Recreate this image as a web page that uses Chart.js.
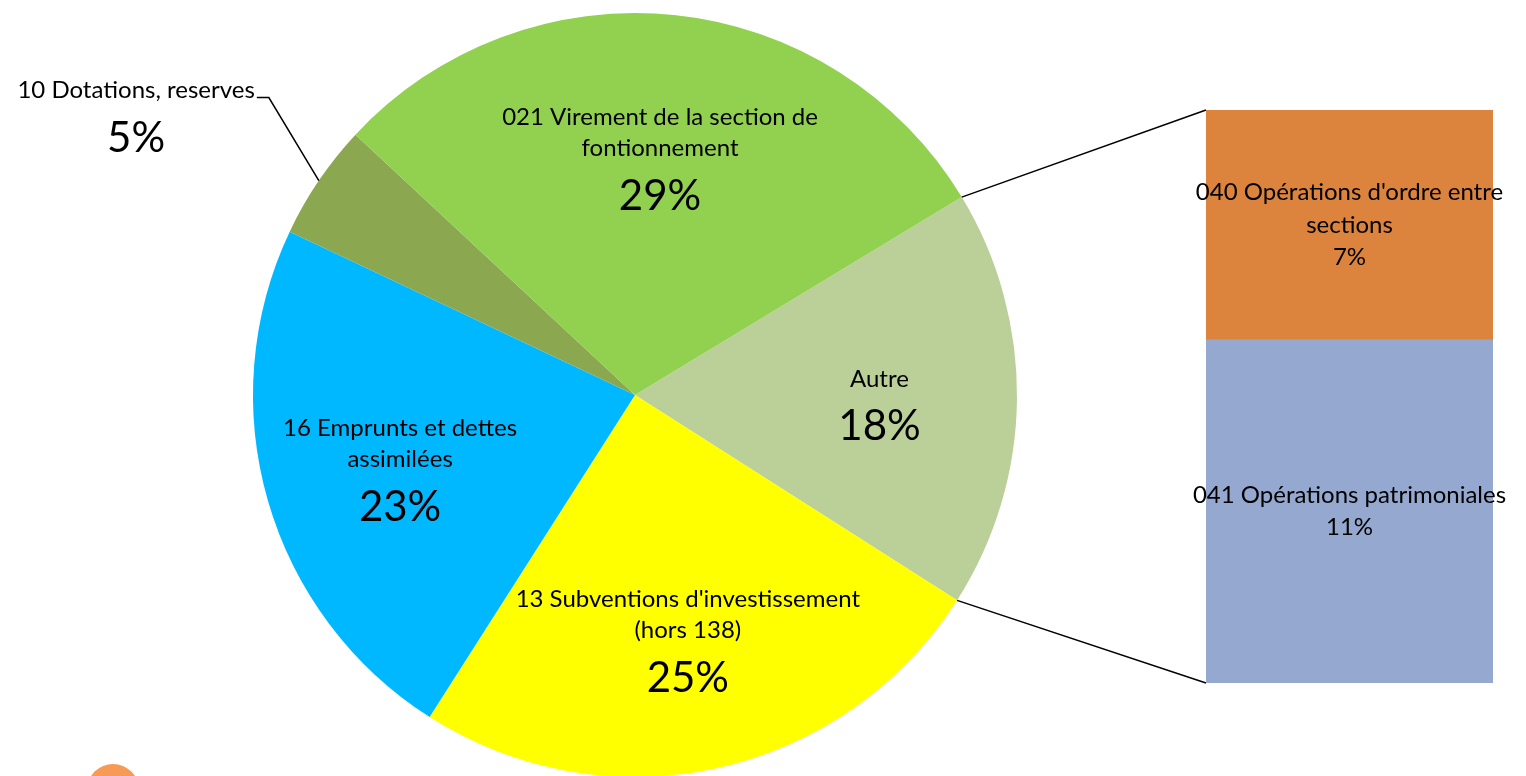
<!DOCTYPE html>
<html>
<head>
<meta charset="utf-8">
<script src="https://cdn.jsdelivr.net/npm/chart.js@4.4.0/dist/chart.umd.min.js"></script>
<style>
html, body { margin: 0; padding: 0; background: #fff; overflow: hidden; }
#pieChart { position: absolute; left: 0; top: 0; }
#barChart { position: absolute; left: 1180px; top: 0; }
</style>
</head>
<body>
<canvas id="pieChart" width="1526" height="800"></canvas>
<canvas id="barChart" width="346" height="776"></canvas>
<script>
// pie slices, clockwise from "Autre"
let pieLabels = [
    ['Autre'],
    ["13 Subventions d'investissement", '(hors 138)'],
    ['16 Emprunts et dettes', 'assimilées'],
    ['10 Dotations, reserves'],
    ['021 Virement de la section de', 'fontionnement']
]
let mainValues = [25.0, 23.0, 4.9, 29.4]
let pieColors = ['#BBCF98', '#FFFF00', '#00B8FF', '#8BA850', '#92D050']

// the "Autre" slice split into a bar
let barLabels = [
    ['041 Opérations patrimoniales'],
    ["040 Opérations d'ordre entre", 'sections']
]
let barValues = [10.6, 7.1]
let barColors = ['#95A9D0', '#DC843E']

let autre = barValues.reduce((a, b) => a + b, 0)
let pieValues = [autre].concat(mainValues)
let total = pieValues.reduce((a, b) => a + b, 0)
let pct = v => Math.round(v / total * 100) + '%'

const FONT = 'Lato, "Open Sans", sans-serif'

let barLabelPlugin = {
    id: 'barLabels',
    afterDraw: (chart) => {
        let ctx = chart.ctx
        ctx.save()
        ctx.fillStyle = '#000'
        ctx.textAlign = 'center'
        ctx.textBaseline = 'middle'
        ctx.font = '24px ' + FONT
        chart.data.datasets.forEach((ds, i) => {
            let bar = chart.getDatasetMeta(i).data[0]
            let lines = barLabels[i].concat([pct(barValues[i])])
            let cy = (bar.y + bar.base) / 2
            let y0 = cy - (lines.length - 1) * 32.5 / 2
            lines.forEach((l, j) => ctx.fillText(l, bar.x, y0 + j * 32.5))
        })
        ctx.restore()
    }
}

let barChart = new Chart(document.getElementById('barChart'), {
    type: 'bar',
    data: {
        labels: [''],
        datasets: barLabels.map((l, i) => ({
            label: l.join(' '),
            data: [barValues[i]],
            backgroundColor: barColors[i],
            borderWidth: 0,
            barPercentage: 1,
            categoryPercentage: 1
        }))
    },
    options: {
        responsive: false,
        animation: false,
        layout: { padding: { left: 26, right: 33, top: 110, bottom: 93 } },
        scales: {
            x: { display: false, stacked: true },
            y: { display: false, stacked: true, min: 0, max: autre }
        },
        plugins: { legend: { display: false }, tooltip: { enabled: false } }
    },
    plugins: [barLabelPlugin]
})

let pieLabelPlugin = {
    id: 'pieLabels',
    afterDraw: (chart) => {
        let ctx = chart.ctx
        let arcs = chart.getDatasetMeta(0).data
        ctx.save()
        ctx.fillStyle = '#000'
        ctx.strokeStyle = '#000'
        ctx.lineWidth = 1.5
        ctx.textAlign = 'center'
        ctx.textBaseline = 'middle'

        // connector lines to the bar
        let a = arcs[0]
        let area = barChart.chartArea
        let bx = 1180 + area.left
        ctx.beginPath()
        ctx.moveTo(a.x + a.outerRadius * Math.cos(a.startAngle), a.y + a.outerRadius * Math.sin(a.startAngle))
        ctx.lineTo(bx, area.top)
        ctx.moveTo(a.x + a.outerRadius * Math.cos(a.endAngle), a.y + a.outerRadius * Math.sin(a.endAngle))
        ctx.lineTo(bx, area.bottom)
        ctx.stroke()

        arcs.forEach((arc, i) => {
            let mid = (arc.startAngle + arc.endAngle) / 2
            if (i == 3) {
                // small slice: label outside with leader line
                let ex = arc.x + arc.outerRadius * Math.cos(mid)
                let ey = arc.y + arc.outerRadius * Math.sin(mid)
                let kx = ex - 50, ky = ey - 83
                ctx.beginPath()
                ctx.moveTo(ex, ey)
                ctx.lineTo(kx, ky)
                ctx.lineTo(kx - 12, ky)
                ctx.stroke()
                ctx.font = '24px ' + FONT
                ctx.textAlign = 'right'
                ctx.fillText(pieLabels[i][0], kx - 14, ky - 7)
                let w = ctx.measureText(pieLabels[i][0]).width
                ctx.textAlign = 'center'
                ctx.font = '42px ' + FONT
                ctx.fillText(pct(pieValues[i]), kx - 14 - w / 2, ky + 41)
                return
            }
            let r = arc.outerRadius * 0.64
            let cx = arc.x + r * Math.cos(mid)
            let cy = arc.y + r * Math.sin(mid) + 5
            let lines = pieLabels[i]
            let h = (lines.length - 1) * 31 + 48
            let y0 = cy - h / 2
            ctx.font = '24px ' + FONT
            lines.forEach((l, j) => ctx.fillText(l, cx, y0 + j * 31))
            ctx.font = '42px ' + FONT
            ctx.fillText(pct(pieValues[i]), cx, y0 + h)
        })

        // orange dot at bottom left
        ctx.fillStyle = '#F79A55'
        ctx.beginPath()
        ctx.arc(113, 790, 26, 0, Math.PI * 2)
        ctx.fill()
        ctx.restore()
    }
}

new Chart(document.getElementById('pieChart'), {
    type: 'pie',
    data: {
        labels: pieLabels.map(l => l.join(' ')),
        datasets: [{
            data: pieValues,
            backgroundColor: pieColors,
            borderWidth: 0
        }]
    },
    options: {
        responsive: false,
        animation: false,
        rotation: 58.8,
        layout: { padding: { left: 253, right: 509, top: 13, bottom: 23 } },
        plugins: { legend: { display: false }, tooltip: { enabled: false } }
    },
    plugins: [pieLabelPlugin]
})
</script>
</body>
</html>
